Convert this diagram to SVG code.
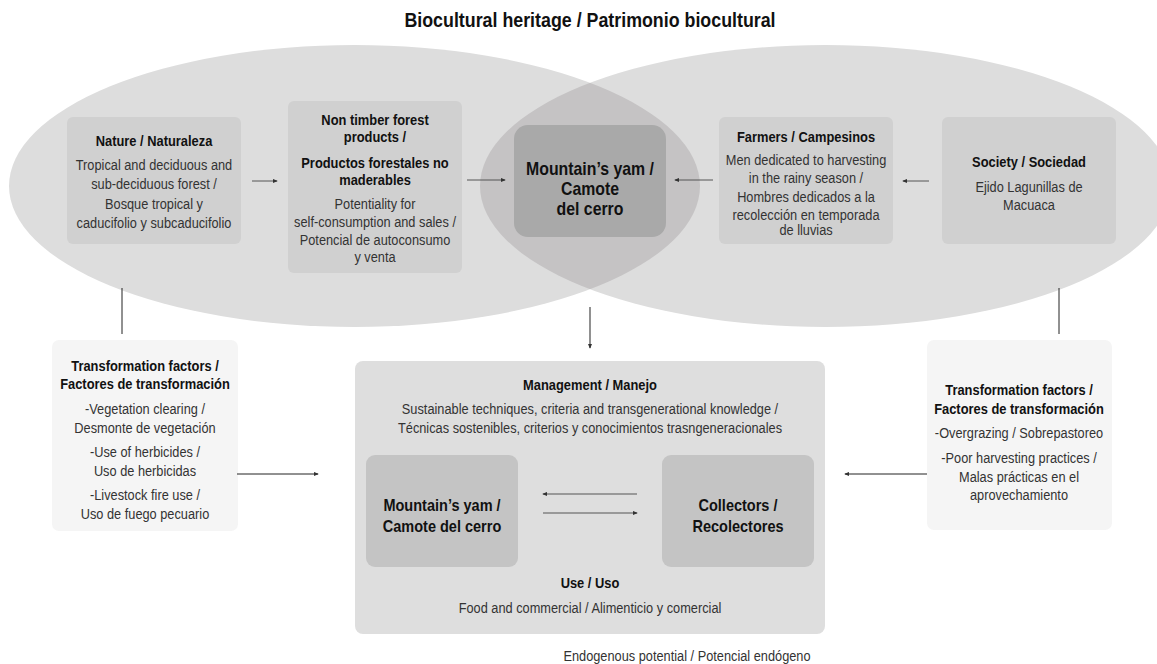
<svg xmlns="http://www.w3.org/2000/svg" width="1157" height="664" viewBox="0 0 1157 664">
<style>
text{font-family:"Liberation Sans",Arial,sans-serif;text-anchor:middle}
.t{font-size:19.8px;font-weight:bold;fill:#111}
.h{font-size:15px;font-weight:bold;fill:#111}
.b{font-size:14.2px;fill:#333}
.big{font-size:18px;font-weight:bold;fill:#111}
.mid{font-size:16.5px;font-weight:bold;fill:#111}
.box{fill:#d0d0d0}
.light{fill:#f5f5f5}
.ln{stroke:#555;stroke-width:1;fill:none}
.vl{stroke:#222;stroke-width:1;fill:none}
</style>
<defs>
<marker id="ah" viewBox="0 0 6 6" refX="5" refY="3" markerWidth="5" markerHeight="5" markerUnits="userSpaceOnUse" orient="auto"><path d="M0,0.5 L6,3 L0,5.5 Z" fill="#333"/></marker>
<clipPath id="leftEl"><ellipse cx="354.5" cy="186" rx="345.5" ry="141"/></clipPath>
</defs>
<g transform="translate(590 0) scale(0.9 1)"><text class="t" x="0" y="27">Biocultural heritage / Patrimonio biocultural</text></g>
<g id="heritage">
<ellipse cx="354.5" cy="186" rx="345.5" ry="141" fill="#dddddd"/>
<ellipse cx="825.5" cy="186" rx="345.5" ry="141" fill="#dddddd"/>
<ellipse cx="825.5" cy="186" rx="345.5" ry="141" fill="#c5c3c4" clip-path="url(#leftEl)"/>
</g>
<g id="nature">
<rect class="box" x="67" y="117" width="174" height="127" rx="6"/>
<g transform="translate(154 0) scale(0.86 1)"><text class="h" x="0" y="146">Nature / Naturaleza</text></g>
<g transform="translate(154 0) scale(0.9 1)">
<text class="b" x="0" y="170">Tropical and deciduous and</text>
<text class="b" x="0" y="189.5">sub-deciduous forest /</text>
<text class="b" x="0" y="209">Bosque tropical y</text>
<text class="b" x="0" y="228.5">caducifolio y subcaducifolio</text>
</g>
</g>
<g id="ntfp">
<rect class="box" x="288" y="101" width="174" height="172" rx="6"/>
<g transform="translate(375 0) scale(0.86 1)">
<text class="h" x="0" y="125">Non timber forest</text>
<text class="h" x="0" y="142">products /</text>
<text class="h" x="0" y="168">Productos forestales no</text>
<text class="h" x="0" y="185.5">maderables</text>
</g>
<g transform="translate(375 0) scale(0.9 1)">
<text class="b" x="0" y="209">Potentiality for</text>
<text class="b" x="0" y="227">self-consumption and sales /</text>
<text class="b" x="0" y="245">Potencial de autoconsumo</text>
<text class="b" x="0" y="262">y venta</text>
</g>
</g>
<g id="yam-center">
<rect x="514" y="125" width="152" height="112" rx="14" fill="#a9a9a9"/>
<g transform="translate(590 0) scale(0.88 1)">
<text class="big" x="0" y="175">Mountain’s yam /</text>
<text class="big" x="0" y="195">Camote</text>
<text class="big" x="0" y="215">del cerro</text>
</g>
</g>
<g id="farmers">
<rect class="box" x="719" y="117" width="174" height="127" rx="6"/>
<g transform="translate(806 0) scale(0.86 1)"><text class="h" x="0" y="142">Farmers / Campesinos</text></g>
<g transform="translate(806 0) scale(0.9 1)">
<text class="b" x="0" y="165">Men dedicated to harvesting</text>
<text class="b" x="0" y="183.5">in the rainy season /</text>
<text class="b" x="0" y="202">Hombres dedicados a la</text>
<text class="b" x="0" y="220">recolección en temporada</text>
<text class="b" x="0" y="235">de lluvias</text>
</g>
</g>
<g id="society">
<rect class="box" x="942" y="117" width="174" height="127" rx="6"/>
<g transform="translate(1029 0) scale(0.86 1)"><text class="h" x="0" y="167">Society / Sociedad</text></g>
<g transform="translate(1029 0) scale(0.9 1)">
<text class="b" x="0" y="192">Ejido Lagunillas de</text>
<text class="b" x="0" y="210">Macuaca</text>
</g>
</g>
<g id="tf-left">
<rect class="light" x="52" y="340" width="186" height="191" rx="7"/>
<g transform="translate(145 0) scale(0.86 1)">
<text class="h" x="0" y="371">Transformation factors /</text>
<text class="h" x="0" y="389.5">Factores de transformación</text>
</g>
<g transform="translate(145 0) scale(0.9 1)">
<text class="b" x="0" y="414">-Vegetation clearing  /</text>
<text class="b" x="0" y="433">Desmonte de vegetación</text>
<text class="b" x="0" y="457.5">-Use of herbicides /</text>
<text class="b" x="0" y="476">Uso de herbicidas</text>
<text class="b" x="0" y="500">-Livestock fire use /</text>
<text class="b" x="0" y="519">Uso de fuego pecuario</text>
</g>
</g>
<g id="tf-right">
<rect class="light" x="927" y="340" width="185" height="190" rx="7"/>
<g transform="translate(1019 0) scale(0.86 1)">
<text class="h" x="0" y="395">Transformation factors /</text>
<text class="h" x="0" y="414">Factores de transformación</text>
</g>
<g transform="translate(1019 0) scale(0.9 1)">
<text class="b" x="0" y="438">-Overgrazing / Sobrepastoreo</text>
<text class="b" x="0" y="463">-Poor harvesting practices /</text>
<text class="b" x="0" y="482.5">Malas prácticas en el</text>
<text class="b" x="0" y="500">aprovechamiento</text>
</g>
</g>
<g id="management">
<rect x="355" y="361" width="470" height="273" rx="8" fill="#dedede"/>
<g transform="translate(590 0) scale(0.86 1)">
<text class="h" x="0" y="390">Management / Manejo</text>
<text class="h" x="0" y="588">Use / Uso</text>
</g>
<g transform="translate(590 0) scale(0.9 1)">
<text class="b" x="0" y="414">Sustainable techniques, criteria and transgenerational knowledge /</text>
<text class="b" x="0" y="433">Técnicas sostenibles, criterios y conocimientos trasngeneracionales</text>
<text class="b" x="0" y="613">Food and commercial / Alimenticio y comercial</text>
</g>
</g>
<g id="yam-inner">
<rect x="366" y="455" width="152" height="112" rx="9" fill="#c4c4c4"/>
<g transform="translate(442 0) scale(0.88 1)">
<text class="mid" x="0" y="511">Mountain’s yam /</text>
<text class="mid" x="0" y="532">Camote del cerro</text>
</g>
</g>
<g id="collectors">
<rect x="662" y="455" width="152" height="112" rx="9" fill="#c4c4c4"/>
<g transform="translate(738 0) scale(0.88 1)">
<text class="mid" x="0" y="511">Collectors /</text>
<text class="mid" x="0" y="532">Recolectores</text>
</g>
</g>
<g id="footnote" transform="translate(687 0) scale(0.9 1)">
<text class="b" x="0" y="661">Endogenous potential / Potencial endógeno</text>
</g>
<g id="connectors">
<line class="ln" x1="252" y1="181" x2="277" y2="181" marker-end="url(#ah)"/>
<line class="ln" x1="467" y1="180" x2="505" y2="180" marker-end="url(#ah)"/>
<line class="ln" x1="713" y1="180" x2="675" y2="180" marker-end="url(#ah)"/>
<line class="ln" x1="929" y1="181" x2="903" y2="181" marker-end="url(#ah)"/>
<line x1="590" y1="307" x2="590" y2="348" stroke="#555" stroke-width="1.3" marker-end="url(#ah)"/>
<line class="vl" x1="122" y1="288" x2="122" y2="334"/>
<line class="vl" x1="1059" y1="288" x2="1059" y2="334"/>
<line class="vl" x1="237" y1="474" x2="318" y2="474" marker-end="url(#ah)"/>
<line class="vl" x1="927" y1="474" x2="845" y2="474" marker-end="url(#ah)"/>
<line class="ln" x1="637" y1="494" x2="543" y2="494" marker-end="url(#ah)"/>
<line class="ln" x1="543" y1="513" x2="637" y2="513" marker-end="url(#ah)"/>
</g>
</svg>
